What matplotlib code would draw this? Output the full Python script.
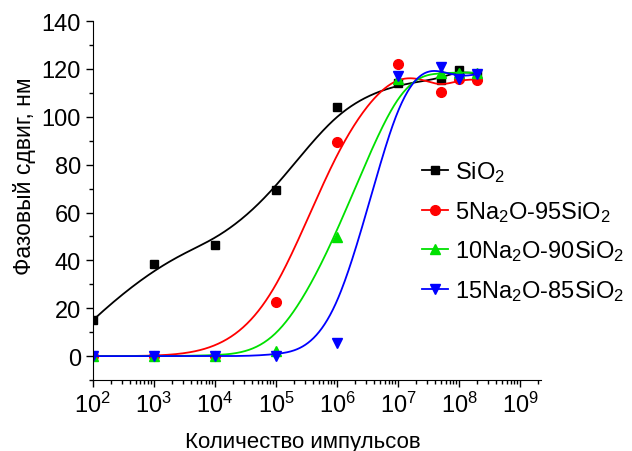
import matplotlib
matplotlib.use("Agg")
import matplotlib.pyplot as plt
import numpy as np
from matplotlib.ticker import LogLocator, MultipleLocator, NullFormatter

plt.rcParams['font.family'] = ['Liberation Sans', 'DejaVu Sans']
plt.rcParams['mathtext.fontset'] = 'custom'
plt.rcParams['mathtext.rm'] = 'Liberation Sans'
plt.rcParams['mathtext.it'] = 'Liberation Sans:italic'
plt.rcParams['mathtext.bf'] = 'Liberation Sans:bold'

# pulse counts
pulses = [1e2, 1e3, 1e4, 1e5, 1e6, 1e7, 5e7, 1e8, 2e8]

sio2 = [15, 38.5, 46.5, 69.5, 104, 114, 115.5, 119.5, 118]
na5 = [0, 0, 0, 22.6, 89.6, 122, 110.5, 116, 115.5]
na10 = [0, 0, 0, 2.2, 49.6, 116, 118.5, 118.5, 118.5]
na15 = [0, 0, 0, 0, 5.5, 117, 121, 116, 118]

labels = ["SiO$_2$", "5Na$_2$O-95SiO$_2$", "10Na$_2$O-90SiO$_2$", "15Na$_2$O-85SiO$_2$"]
colors = ["black", "#ff0000", "#00e000", "#0000ff"]
markers = ["s", "o", "^", "v"]


def bspline(xs, ys, k=3, num=400):
    """Open uniform cubic B-spline, data points used as control points (log x)."""
    P = np.column_stack([np.log10(xs), ys])
    n = len(P)
    knots = np.concatenate([np.zeros(k), np.arange(n - k + 1), np.full(k, n - k)])
    t = np.linspace(0, n - k, num)
    t[-1] -= 1e-9
    N = np.zeros((num, len(knots) - 1))
    for i in range(len(knots) - 1):
        N[:, i] = (knots[i] <= t) & (t < knots[i + 1])
    for d in range(1, k + 1):
        Nn = np.zeros((num, len(knots) - 1 - d))
        for i in range(len(knots) - 1 - d):
            a = knots[i + d] - knots[i]
            b = knots[i + d + 1] - knots[i + 1]
            term = 0
            if a > 0:
                term = term + (t - knots[i]) / a * N[:, i]
            if b > 0:
                term = term + (knots[i + d + 1] - t) / b * N[:, i + 1]
            Nn[:, i] = term
        N = Nn
    C = N @ P
    return 10 ** C[:, 0], C[:, 1]


fig = plt.figure(figsize=(6.32, 4.52), dpi=100)
ax = fig.add_axes([0.147, 0.157, 0.709, 0.794])

for ys, lab, c, m in zip([sio2, na5, na10, na15], labels, colors, markers):
    cx, cy = bspline(pulses, ys)
    ax.plot(cx, cy, color=c, lw=1.3)
    ax.plot(pulses, ys, ls="none", marker=m, color=c, ms=7 if m != "s" else 6)
    ax.plot([], [], color=c, marker=m, ms=7 if m != "s" else 6, lw=1.3, label=lab)

ax.set_xscale("log")
ax.set_xlim(1e2, 2.2e9)
ax.set_ylim(-10, 140)
ax.xaxis.set_major_locator(LogLocator(base=10, numticks=20))
ax.xaxis.set_minor_locator(LogLocator(base=10, subs=np.arange(2, 10), numticks=100))
ax.xaxis.set_minor_formatter(NullFormatter())
ax.yaxis.set_major_locator(MultipleLocator(20))
ax.yaxis.set_minor_locator(MultipleLocator(10))
ax.set_yticks([0, 20, 40, 60, 80, 100, 120, 140])

for s in ["top", "right"]:
    ax.spines[s].set_visible(False)
ax.tick_params(which="major", direction="out", length=5, width=1, labelsize=17)
ax.tick_params(which="minor", direction="out", length=3, width=1)

ax.set_xlabel("Количество импульсов", fontsize=16)
ax.set_ylabel("Фазовый сдвиг, нм", fontsize=16.5)
ax.xaxis.set_label_coords(0.469, -0.142)
ax.yaxis.set_label_coords(-0.127, 0.571)

ax.legend(loc="center left", bbox_to_anchor=(0.687, 0.415), frameon=False,
          fontsize=17, handlelength=1.1, handletextpad=0.3, labelspacing=0.62)

fig.savefig("out.png", dpi=100)
